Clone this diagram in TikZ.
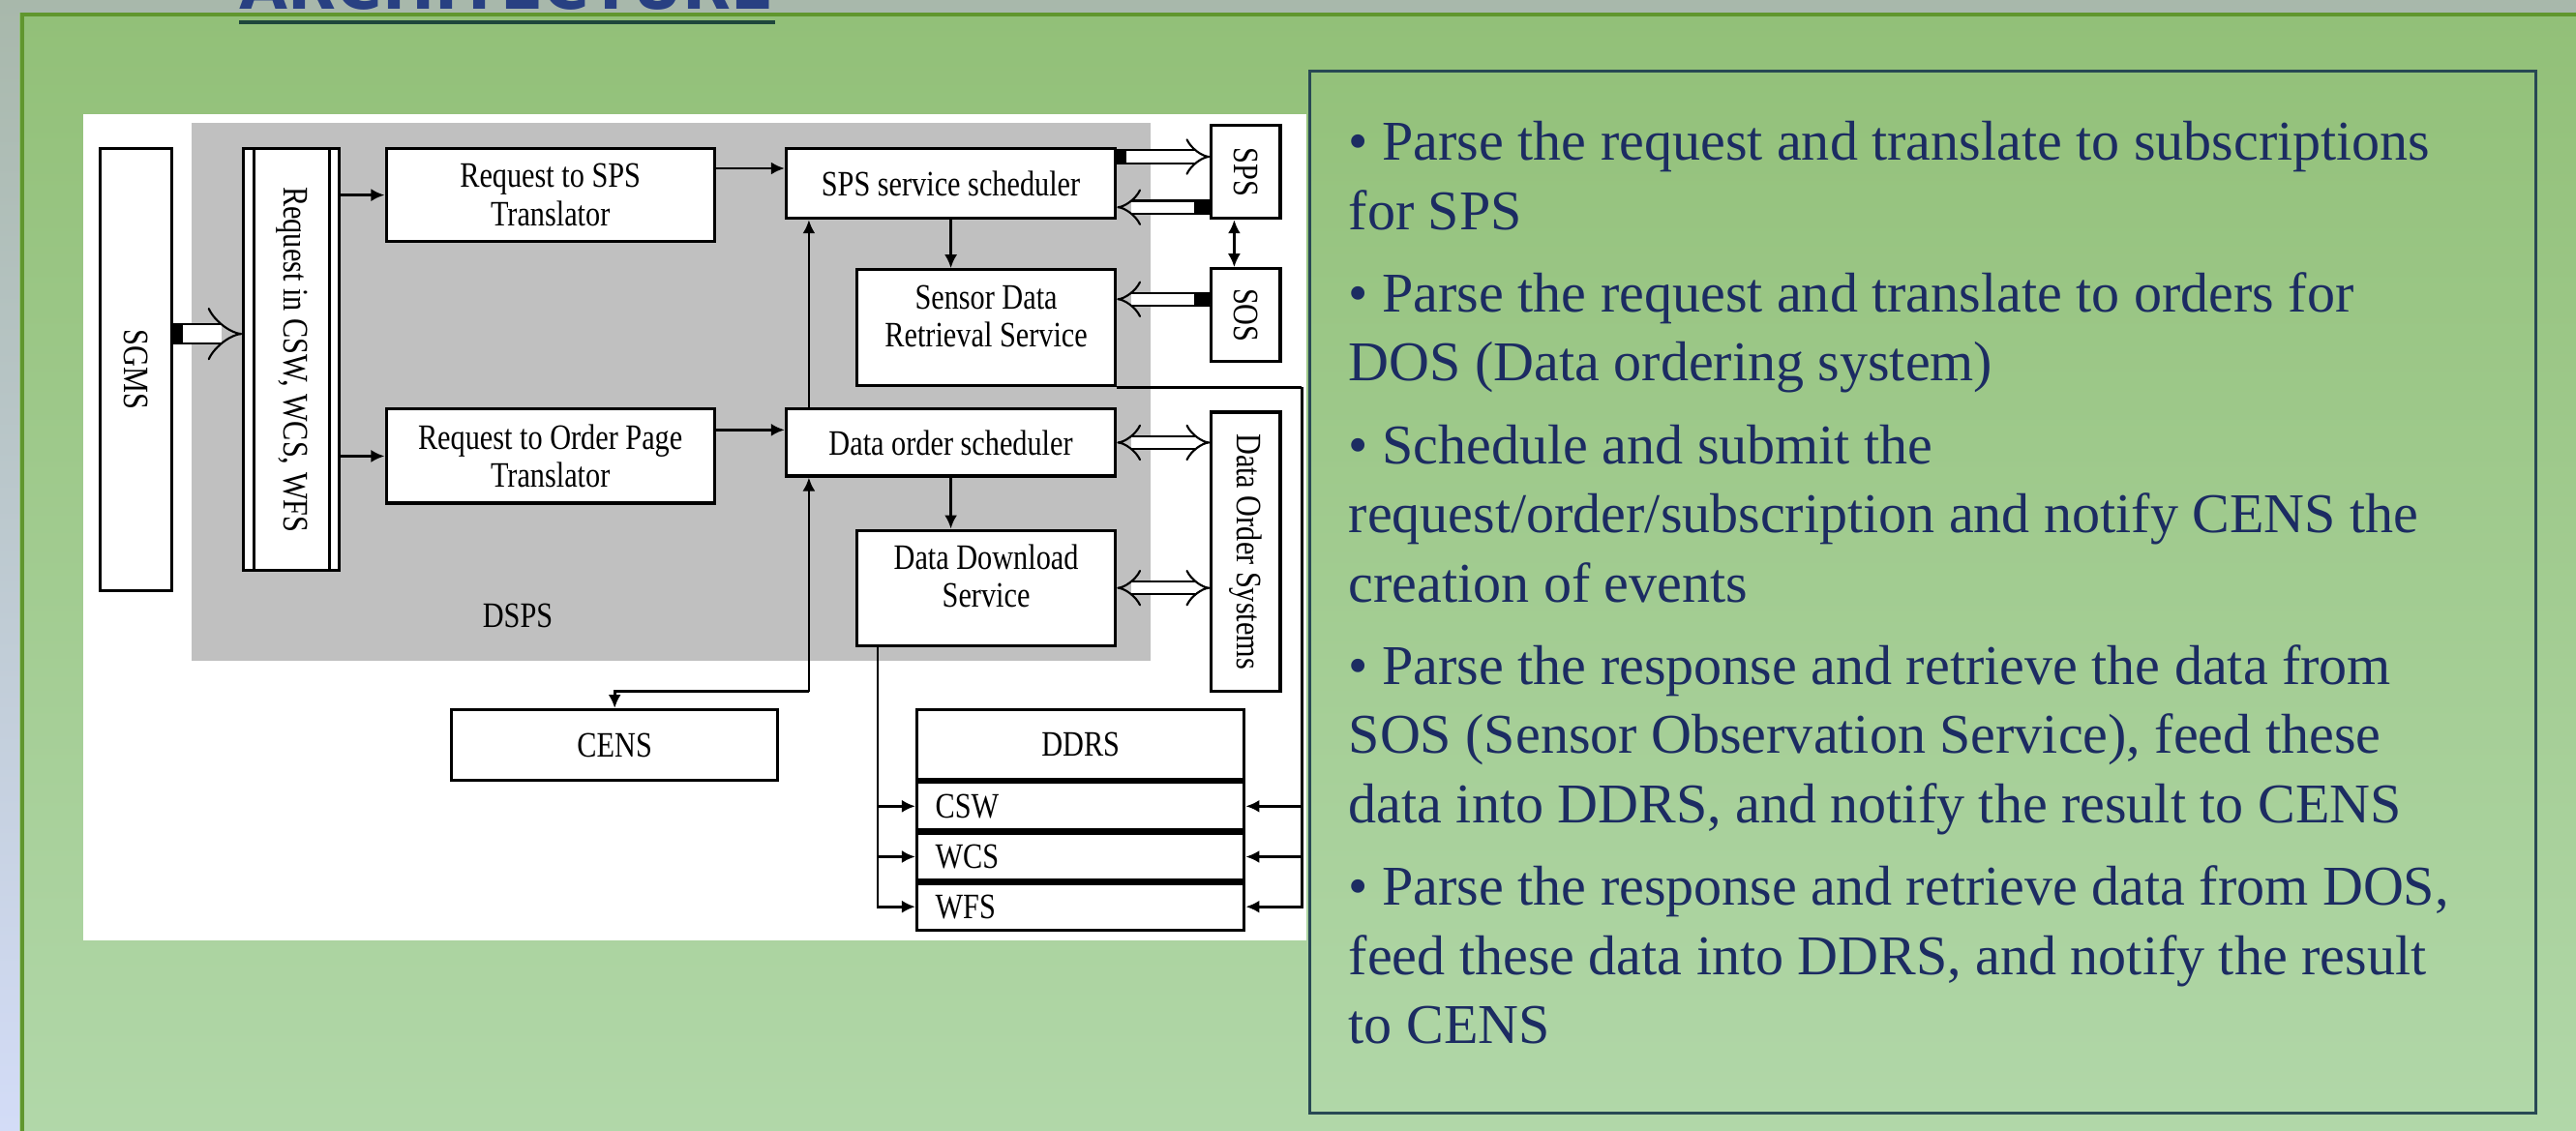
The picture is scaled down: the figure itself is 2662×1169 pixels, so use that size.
\documentclass[tikz,border=0pt]{standalone}
\usepackage{fontspec}
\setmainfont{Liberation Serif}
\newfontfamily\diafont[FakeStretch=0.82]{Liberation Serif}
\newfontfamily\titlefont{DejaVu Sans}
\usetikzlibrary{arrows.meta, positioning, calc, backgrounds}

\definecolor{slidetop}{RGB}{168,184,171}
\definecolor{slidebot}{RGB}{211,220,247}
\definecolor{greentop}{RGB}{146,192,120}
\definecolor{greenbot}{RGB}{178,216,170}
\definecolor{frameline}{RGB}{96,150,46}
\definecolor{titleblue}{RGB}{40,64,130}
\definecolor{ruleline}{RGB}{30,70,60}
\definecolor{notetext}{RGB}{28,44,98}
\definecolor{noteline}{RGB}{40,72,84}
\definecolor{dspsgray}{RGB}{192,192,192}

\begin{document}
\begin{tikzpicture}[
        x=0.01cm, y=-0.01cm,
        dia_font/.style={font=\diafont\fontsize{10.5}{11.2}\selectfont},
        box/.style={rectangle, draw=black, line width=0.9pt, fill=white, align=center, inner sep=1pt, dia_font},
        row/.style={box, minimum height=0.49cm, text width=3.0cm, align=left, inner xsep=0.19cm},
        sig/.style={-{Latex[length=1.4mm, width=1.3mm]}, line width=0.8pt},
        pipe/.style={double=white, double distance=3.2pt, line width=0.6pt, -{Implies}},
        bigpipe/.style={double=white, double distance=5pt, line width=0.6pt, -{Implies}},
        twopipe/.style={pipe, {Implies}-{Implies}},
        plug/.style={fill=black},
        note_text/.style={font=\fontsize{16.5}{20.3}\selectfont, text=notetext, align=left, inner sep=0pt}
    ]

    \useasboundingbox (0,0) rectangle (2662,1169);
    \clip (0,0) rectangle (2662,1169);
    \shade[top color=slidetop, bottom color=slidebot] (0,0) rectangle (2662,1169);
    \shade[top color=greentop, bottom color=greenbot] (20,13) rectangle (2700,1200);
    \draw[frameline, line width=1.3pt] (2700,15) -| (23,1200);

    \node[anchor=base west, inner sep=0pt, text=titleblue, font=\titlefont\bfseries\fontsize{18.4}{20}\selectfont] (title) at (247,9) {ARCHITECTURE};
    \draw[ruleline, line width=1.2pt] ([yshift=-0.14cm]title.base west) -- ([yshift=-0.14cm]title.base east);

    \fill[white] (86,118) rectangle (1350,972);
    \fill[dspsgray] (198,127) rectangle (1189,683);
    \node[dia_font] (dsps) at (535,636) {DSPS};

    \node[box, minimum width=0.74cm, minimum height=4.57cm, anchor=north west] (sgms) at (102,152) {\rotatebox{-90}{SGMS}};
    \node[box, minimum width=0.99cm, minimum height=4.36cm, right=0.71cm of sgms.north east, anchor=north west] (req) {\rotatebox{-90}{Request in CSW, WCS, WFS}};
    \draw[line width=0.9pt] ([xshift=0.12cm]req.north west) -- ([xshift=0.12cm]req.south west);
    \draw[line width=0.9pt] ([xshift=-0.12cm]req.north east) -- ([xshift=-0.12cm]req.south east);

    \node[box, minimum width=3.39cm, minimum height=0.96cm, right=0.45cm of req.north east, anchor=north west] (tsps) {Request to SPS\\Translator};
    \node[box, minimum width=3.39cm, minimum height=0.97cm, below=1.70cm of tsps] (tord) {Request to Order Page\\Translator};
    \node[box, minimum width=3.40cm, minimum height=0.72cm, right=0.71cm of tsps.north east, anchor=north west] (ssched) {SPS service scheduler};
    \node[box, minimum width=2.67cm, minimum height=1.20cm, below=0.50cm of ssched.south east, anchor=north east] (sdrs) {Sensor Data\\Retrieval Service\\[-0.15cm]};
    \node[box, minimum width=3.40cm, minimum height=0.69cm, below=1.94cm of ssched] (dsched) {Data order scheduler};
    \node[box, minimum width=2.67cm, minimum height=1.19cm, below=0.53cm of dsched.south east, anchor=north east] (dds) {Data Download\\Service\\[-0.15cm]};

    \node[box, minimum width=0.71cm, minimum height=0.96cm, right=0.96cm of ssched.south east, anchor=south west] (sps) {\rotatebox{-90}{SPS}};
    \node[box, minimum width=0.71cm, minimum height=0.96cm, below=0.49cm of sps] (sos) {\rotatebox{-90}{SOS}};
    \node[box, minimum width=0.71cm, minimum height=2.88cm, below=0.49cm of sos] (dos) {\rotatebox{-90}{Data Order Systems}};

    \node[box, minimum width=3.37cm, minimum height=0.73cm, anchor=north west] (cens) at (465,732) {CENS};
    \node[box, minimum width=3.38cm, minimum height=0.72cm, anchor=north west] (ddrs) at (946,732) {DDRS};
    \node[row, below=0pt of ddrs] (csw) {CSW};
    \node[row, below=0pt of csw] (wcs) {WCS};
    \node[row, minimum height=0.48cm, below=0pt of wcs] (wfs) {WFS};

    \draw[sig] (req.east |- tsps.west) -- (tsps.west);
    \draw[sig] (req.east |- tord.west) -- (tord.west);
    \draw[sig] ([yshift=-0.22cm]tsps.north east) -- ([yshift=-0.22cm]ssched.north west);
    \draw[sig] ([yshift=-0.23cm]tord.north east) -- ([yshift=-0.23cm]dsched.north west);
    \draw[sig] (ssched.south) -- (ssched.south |- sdrs.north);
    \draw[sig] (dsched.south) -- (dsched.south |- dds.north);

    \coordinate (notify) at ($(dsched.south west)+(25,221)$);
    \draw[sig] (notify) -- (notify |- dsched.south);
    \draw[sig] (notify |- dsched.north) -- (notify |- ssched.south);
    \draw[sig] (notify) -| (cens.north);

    \coordinate (ddsout) at ([xshift=0.23cm]dds.south west);
    \draw[sig] (ddsout) |- (wfs.west);
    \draw[sig] (ddsout |- csw.west) -- (csw.west);
    \draw[sig] (ddsout |- wcs.west) -- (wcs.west);
    \coordinate (sdrsout) at ($(sdrs.south east)+(191,0)$);
    \draw[line width=0.8pt] (sdrs.south east) -- (sdrsout);
    \draw[sig] (sdrsout) |- (wfs.east);
    \draw[sig] (sdrsout |- csw.east) -- (csw.east);
    \draw[sig] (sdrsout |- wcs.east) -- (wcs.east);

    \coordinate (sgmsout) at ([yshift=-1.93cm]sgms.north east);
    \draw[bigpipe] (sgmsout) -- (sgmsout -| req.west);
    \fill[plug] (sgmsout) ++(0,-11) rectangle ++(10,22);

    \coordinate (spsup) at ([yshift=-0.10cm]ssched.north east);
    \draw[pipe] (spsup) -- (spsup -| sps.west);
    \fill[plug] (spsup) ++(0,-7) rectangle ++(10,14);
    \coordinate (spsdown) at ([yshift=0.13cm]ssched.south east);
    \draw[pipe] (spsdown -| sps.west) -- (spsdown);
    \fill[plug] (spsdown -| sps.west) ++(-16,-7) rectangle ++(16,14);
    \coordinate (sosin) at ([yshift=-0.33cm]sos.north west);
    \draw[pipe] (sosin) -- (sosin -| sdrs.east);
    \fill[plug] (sosin) ++(-16,-7) rectangle ++(16,14);
    \draw[twopipe] (dsched.east) -- (dsched.east -| dos.west);
    \draw[twopipe] (dds.east) -- (dds.east -| dos.west);
    \draw[{Latex[length=1.4mm, width=1.3mm]}-{Latex[length=1.4mm, width=1.3mm]}, line width=0.8pt] ([xshift=-0.12cm]sps.south) -- ([xshift=-0.12cm]sos.north);

    \node[draw=noteline, line width=0.9pt, minimum width=12.66cm, minimum height=10.76cm, anchor=north west] (notebox) at (1352,72) {};
    \node[note_text, anchor=base west] (notes) at ([xshift=0.41cm, yshift=-10.06cm]notebox.north west) {%
        • Parse the request and translate to subscriptions\\
        for SPS\\[4pt]
        • Parse the request and translate to orders for\\
        DOS (Data ordering system)\\[4pt]
        • Schedule and submit the\\
        request/order/subscription and notify CENS the\\
        creation of events\\[4pt]
        • Parse the response and retrieve the data from\\
        SOS (Sensor Observation Service), feed these\\
        data into DDRS, and notify the result to CENS\\[4pt]
        • Parse the response and retrieve data from DOS,\\
        feed these data into DDRS, and notify the result\\
        to CENS};
\end{tikzpicture}
\end{document}
